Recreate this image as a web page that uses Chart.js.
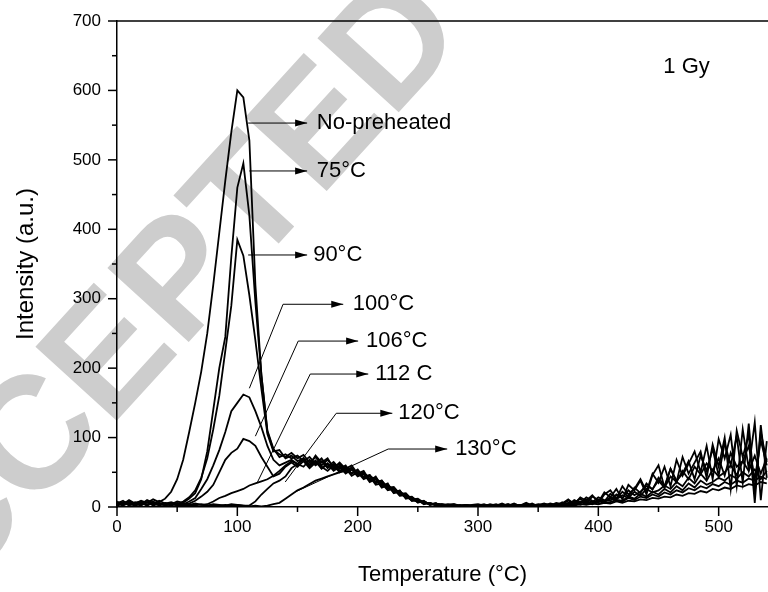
<!DOCTYPE html>
<html>
<head>
<meta charset="utf-8">
<script src="https://cdn.jsdelivr.net/npm/chart.js@4.4.1/dist/chart.umd.min.js"></script>
<style>
  html, body { margin: 0; padding: 0; background: #fff; }
</style>
</head>
<body>
<canvas id="tl" width="768" height="592"></canvas>
<script>
// temperature grid (°C)
const temps = [
  0, 5, 10, 15, 20, 25, 30, 35, 40, 45, 50, 55, 60, 65, 70, 75, 80, 85, 90, 95,
  100, 105, 110, 115, 120, 125, 130, 135, 140, 145, 150, 155, 160, 165, 170, 175, 180, 185, 190, 195,
  200, 205, 210, 215, 220, 225, 230, 235, 240, 245, 250, 255, 260, 265, 270, 275, 280, 285, 290, 295,
  300, 305, 310, 315, 320, 325, 330, 335, 340, 345, 350, 355, 360, 365,
  370, 375, 380, 385, 390, 395, 400, 405, 410, 415, 420, 425, 430, 435, 440, 445, 450, 455, 460, 465,
  470, 475, 480, 485, 490, 495, 500, 505, 510, 515, 520, 525, 530, 535, 540
];

// TL intensity (a.u.) for each preheat condition
const noPreheat = [
  8, 4, 10, 5, 9, 6, 11, 7,
  12, 22, 40, 68, 108, 150, 195, 250, 320, 395, 470, 540, 600, 590, 528, 320, 190, 108, 82, 76, 72, 78,
  70, 75, 64, 72, 60, 68, 58, 62, 52, 57, 46, 50, 40, 42, 32, 30, 22, 20, 14, 11, 8, 7, 4, 5, 2, 4, 3, 1, 3, 2,
  3, 1, 4, 2, 5, 1, 3, 2, 6, 2, 3, 5, 2, 6,
  4, 9, 6, 12, 5, 15, 10, 8, 19, 12, 22, 15, 28, 20, 34, 25, 42, 30, 55, 38, 48, 66, 40, 74, 52, 84, 45, 92, 60, 102, 35, 120, 20, 108, 65
];
const pre75 = [
  5, 9, 3, 7, 4, 10, 6, 3,
  6, 4, 8, 6, 12, 20, 40, 80, 140, 200, 245, 360, 460, 495, 420, 295, 190, 110, 84, 72, 76, 70,
  74, 66, 72, 62, 70, 58, 65, 55, 60, 48, 54, 42, 46, 34, 38, 26, 27, 17, 18, 9, 10, 5, 6, 2, 4, 3, 1, 2, 3, 1,
  2, 4, 1, 3, 2, 4, 1, 3, 2, 5, 1, 4, 3, 2,
  7, 3, 10, 6, 14, 9, 6, 18, 24, 12, 30, 18, 26, 40, 22, 48, 35, 58, 30, 68, 45, 62, 80, 50, 88, 40, 98, 70, 104, 30, 112, 55, 122, 10, 95
];
const pre90 = [
  3, 6, 8, 2, 5, 7, 4, 9,
  5, 7, 4, 8, 14, 24, 42, 70, 112, 160, 225, 290, 385, 362, 305, 240, 170, 105, 80, 82, 70, 74,
  66, 70, 60, 74, 64, 70, 56, 64, 55, 60, 48, 52, 38, 44, 30, 34, 20, 24, 12, 14, 6, 9, 3, 5, 2, 3, 4, 2, 1, 3,
  4, 2, 3, 1, 4, 2, 5, 1, 3, 2, 4, 2, 5, 3,
  5, 11, 4, 14, 9, 17, 7, 21, 14, 26, 11, 32, 24, 38, 18, 46, 60, 28, 55, 36, 72, 48, 64, 80, 42, 90, 58, 100, 26, 110, 72, 104, 6, 118, 42
];
const pre100 = [
  6, 3, 8, 5, 2, 7, 5, 4,
  3, 6, 4, 4, 8, 13, 26, 40, 60, 82, 108, 138, 150, 162, 158, 138, 115, 88, 68, 60, 64, 68,
  62, 68, 58, 66, 55, 62, 52, 58, 48, 54, 44, 48, 36, 40, 28, 31, 20, 22, 13, 12, 7, 8, 3, 5, 3, 2, 4, 1, 3, 2,
  1, 3, 2, 4, 1, 2, 3, 1, 4, 2, 3, 1, 4, 2,
  3, 6, 8, 5, 11, 7, 14, 10, 9, 18, 13, 24, 17, 22, 30, 26, 38, 28, 44, 36, 52, 40, 58, 47, 63, 52, 70, 45, 78, 58, 66, 88, 40, 96, 60
];
const pre106 = [
  4, 7, 2, 6, 8, 3, 6, 2,
  5, 3, 6, 4, 5, 9, 15, 22, 32, 50, 68, 78, 84, 98, 95, 88, 72, 58, 44, 48, 58, 64,
  58, 66, 56, 64, 58, 52, 60, 50, 56, 45, 50, 40, 44, 32, 34, 24, 26, 16, 17, 9, 10, 4, 6, 2, 3, 1, 3, 2, 2, 1,
  2, 1, 3, 2, 2, 4, 1, 2, 3, 2, 1, 3, 2, 4,
  2, 5, 4, 8, 6, 5, 10, 8, 14, 11, 17, 13, 22, 16, 26, 21, 24, 31, 26, 36, 30, 42, 34, 48, 38, 54, 44, 50, 60, 46, 66, 52, 74, 48, 70
];
const pre112 = [
  2, 5, 7, 3, 6, 2, 8, 4,
  3, 5, 2, 4, 3, 5, 3, 4, 8, 13, 16, 20, 23, 26, 31, 34, 37, 40, 45, 52, 60, 66,
  62, 70, 60, 67, 56, 63, 54, 60, 50, 55, 45, 49, 38, 41, 30, 32, 22, 23, 14, 15, 8, 8, 4, 5, 2, 3, 1, 3, 2, 1,
  3, 2, 1, 3, 2, 1, 4, 2, 1, 3, 2, 2, 3, 1,
  2, 4, 3, 6, 8, 5, 10, 7, 12, 10, 9, 15, 12, 19, 15, 22, 18, 26, 21, 30, 24, 34, 28, 38, 32, 36, 42, 38, 46, 41, 50, 44, 54, 40, 52
];
const pre120 = [
  5, 2, 6, 4, 3, 7, 2, 5,
  4, 2, 5, 3, 2, 4, 3, 2, 4, 3, 2, 4, 3, 2, 2, 8, 18, 26, 34, 38, 44, 56,
  62, 58, 68, 60, 66, 56, 62, 52, 58, 48, 53, 43, 46, 36, 38, 28, 29, 19, 20, 11, 12, 6, 6, 3, 4, 2, 3, 1, 2, 2,
  1, 2, 3, 1, 2, 2, 3, 1, 2, 2, 3, 1, 2, 3,
  2, 3, 5, 3, 6, 4, 8, 6, 7, 10, 8, 13, 10, 15, 13, 18, 15, 21, 18, 24, 21, 27, 24, 30, 27, 33, 30, 36, 32, 38, 35, 41, 38, 44, 40
];
const pre130 = [
  3, 6, 4, 2, 7, 3, 5, 6,
  2, 4, 3, 2, 3, 2, 4, 2, 3, 2, 3, 2, 3, 2, 1, 2, 1, 2, 4, 6, 12, 18,
  24, 28, 33, 38, 41, 44, 47, 50, 52, 54, 50, 47, 44, 40, 35, 30, 26, 21, 17, 13, 9, 7, 5, 4, 3, 2, 2, 1, 2, 1,
  2, 1, 3, 2, 1, 2, 2, 3, 1, 2, 2, 1, 3, 2,
  2, 3, 2, 4, 3, 5, 4, 6, 5, 8, 6, 9, 8, 11, 10, 13, 12, 15, 14, 18, 16, 20, 19, 23, 21, 26, 24, 28, 26, 31, 29, 33, 31, 36, 34
];

const seriesNames = ['No-preheated', '75°C', '90°C', '100°C', '106°C', '112 C', '120°C', '130°C'];
const seriesValues = [noPreheat, pre75, pre90, pre100, pre106, pre112, pre120, pre130];

const xTickLabels = [0, 100, 200, 300, 400, 500];
const yTickLabels = [0, 100, 200, 300, 400, 500, 600, 700];

// callout leaders, in data units: path ends at arrow tip, text placed after it
const callouts = [
  { text: 'No-preheated', path: [[109, 553], [158, 553]], textAt: 166 },
  { text: '75°C', path: [[110, 484], [158, 484]], textAt: 166 },
  { text: '90°C', path: [[109, 363], [158, 363]], textAt: 163 },
  { text: '100°C', path: [[110, 171], [138, 292], [188, 292]], textAt: 196 },
  { text: '106°C', path: [[115, 102], [150.6, 239], [200.4, 239]], textAt: 207 },
  { text: '112 C', path: [[116.5, 35], [160.6, 191.5], [208.8, 191.5]], textAt: 214.6 },
  { text: '120°C', path: [[139.8, 36], [182.2, 135], [228.8, 135]], textAt: 233.7 },
  { text: '130°C', path: [[148, 21.6], [225.4, 83.5], [274.4, 83.5]], textAt: 281 },
];
const doseLabel = { text: '1 Gy', at: [454, 634] };

const FONT = '"Liberation Sans", Arial, Helvetica, sans-serif';
Chart.defaults.font.family = FONT;
Chart.defaults.color = '#000';

const decor = {
  id: 'decor',
  beforeDraw(chart) {
    const { ctx, width, height } = chart;
    ctx.save();
    ctx.fillStyle = '#fff';
    ctx.fillRect(0, 0, width, height);
    // faint diagonal watermark
    ctx.translate(140, 330);
    ctx.rotate(-47.6 * Math.PI / 180);
    ctx.font = 'bold 160px ' + FONT;
    ctx.fillStyle = '#cdcdcd';
    ctx.textAlign = 'center';
    ctx.textBaseline = 'middle';
    ctx.fillText('ACCEPTED', 0, 0);
    ctx.restore();
  },
  afterDraw(chart) {
    const { ctx, chartArea: a, scales: { x, y } } = chart;
    const seg = (x1, y1, x2, y2) => { ctx.beginPath(); ctx.moveTo(x1, y1); ctx.lineTo(x2, y2); ctx.stroke(); };
    ctx.save();
    ctx.strokeStyle = '#000';
    ctx.fillStyle = '#000';
    ctx.lineWidth = 1.5;
    seg(a.left, a.top, a.right, a.top);
    for (let v = 0; v <= 700; v += 50) {
      const py = y.getPixelForValue(v);
      seg(a.left - (v % 100 ? 5 : 9), py, a.left, py);
    }
    for (let t = 0; t <= x.max; t += 50) {
      const px = x.getPixelForValue(t);
      seg(px, a.bottom, px, a.bottom + (t % 100 ? 5 : 9));
    }

    ctx.lineWidth = 1;
    ctx.font = '22px ' + FONT;
    ctx.textAlign = 'left';
    ctx.textBaseline = 'middle';
    callouts.forEach(c => {
      const pts = c.path.map(([t, v]) => [x.getPixelForValue(t), y.getPixelForValue(v)]);
      ctx.beginPath();
      pts.forEach(([px, py], i) => i ? ctx.lineTo(px, py) : ctx.moveTo(px, py));
      ctx.stroke();
      const [hx, hy] = pts[pts.length - 1];
      ctx.beginPath();
      ctx.moveTo(hx, hy);
      ctx.lineTo(hx - 12, hy - 3.5);
      ctx.lineTo(hx - 12, hy + 3.5);
      ctx.closePath();
      ctx.fill();
      ctx.fillText(c.text, x.getPixelForValue(c.textAt), hy);
    });
    ctx.fillText(doseLabel.text, x.getPixelForValue(doseLabel.at[0]), y.getPixelForValue(doseLabel.at[1]));
    ctx.restore();
  }
};

new Chart(document.getElementById('tl'), {
  type: 'line',
  data: {
    datasets: seriesValues.map((vals, i) => ({
      label: seriesNames[i],
      data: temps.map((t, j) => ({ x: t, y: vals[j] })),
      borderColor: '#000',
      borderWidth: 1.8,
      pointRadius: 0,
      fill: false,
      tension: 0,
    })),
  },
  options: {
    responsive: false,
    animation: false,
    layout: { padding: { top: 21, right: 0, bottom: 0, left: 0 } },
    plugins: {
      legend: { display: false },
      tooltip: { enabled: false },
    },
    scales: {
      x: {
        type: 'linear',
        min: 0,
        max: 541,
        border: { display: true, color: '#000', width: 1.5 },
        grid: { display: false, drawTicks: false },
        ticks: {
          stepSize: 100,
          padding: 10,
          color: '#000',
          font: { size: 17 },
          maxRotation: 0,
          autoSkip: false,
          callback: v => xTickLabels.includes(v) ? String(v) : '',
        },
        title: {
          display: true,
          text: 'Temperature (°C)',
          color: '#000',
          font: { size: 22 },
          padding: { top: 0, bottom: 4 },
        },
        afterFit: s => { s.height = 85; s.paddingLeft = 0; s.paddingRight = 0; },
      },
      y: {
        min: 0,
        max: 700,
        border: { display: true, color: '#000', width: 1.5 },
        grid: { display: false, drawTicks: false },
        ticks: {
          stepSize: 100,
          padding: 16,
          color: '#000',
          font: { size: 17 },
          callback: v => yTickLabels.includes(v) ? String(v) : '',
        },
        title: {
          display: true,
          text: 'Intensity (a.u.)',
          color: '#000',
          font: { size: 24 },
          padding: { top: 12, bottom: 0 },
        },
        afterFit: s => { s.width = 117; s.paddingTop = 0; s.paddingBottom = 0; },
      },
    },
  },
  plugins: [decor],
});
</script>
</body>
</html>
